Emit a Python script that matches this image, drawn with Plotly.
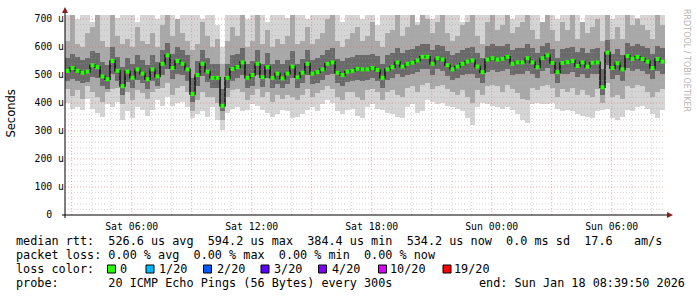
import plotly.graph_objects as go
import pandas as pd

# ---------------- data (15-minute columns) ----------------
START = "2026-01-17 02:39:50"
END = "2026-01-18 08:39:50"
STEP_MIN = 15

median = [515, 525, 515, 508, 512, 535, 528, 495, 485, 550, 515, 460, 512, 490, 520, 505, 485, 520, 495, 540, 570, 525, 550, 540,
          520, 432, 500, 540, 512, 490, 490, 390, 490, 522, 528, 545, 490, 500, 540, 492, 528, 490, 505, 488, 505, 530, 492, 508,
          540, 505, 510, 520, 540, 545, 508, 500, 512, 515, 522, 520, 520, 525, 518, 490, 520, 528, 545, 530, 540, 544, 552, 565,
          565, 540, 560, 555, 535, 520, 530, 540, 548, 552, 530, 510, 555, 560, 555, 558, 565, 540, 545, 545, 560, 545, 528, 560,
          570, 543, 510, 543, 546, 550, 532, 545, 530, 544, 545, 456, 580, 525, 542, 520, 568, 558, 565, 557, 548, 525, 557, 548]

smoke_min = [399, 380, 385, 375, 415, 380, 365, 350, 395, 385, 405, 340, 370, 345, 385, 375, 355, 375, 410, 390, 420, 390, 400, 405,
             385, 345, 360, 370, 350, 385, 340, 305, 365, 380, 385, 370, 375, 395, 390, 375, 365, 350, 360, 375, 370, 345, 350, 360,
             375, 385, 370, 395, 410, 400, 370, 360, 375, 380, 355, 345, 385, 395, 380, 375, 365, 360, 350, 345, 385, 395, 365, 370,
             410, 405, 395, 400, 390, 385, 380, 370, 345, 320, 385, 400, 395, 390, 385, 380, 385, 375, 360, 340, 330, 395, 400, 395,
             395, 400, 380, 370, 375, 370, 360, 355, 350, 345, 370, 375, 380, 345, 340, 350, 375, 370, 385, 390, 380, 360, 345, 375]

smoke_max = [730, 730, 700, 730, 730, 690, 730, 730, 730, 730, 705, 730, 730, 730, 690, 730, 730, 730, 700, 730, 730, 730, 695, 730,
             730, 730, 730, 700, 730, 730, 680, 600, 730, 730, 730, 730, 700, 730, 730, 730, 690, 730, 730, 730, 705, 730, 730, 730,
             700, 730, 730, 730, 730, 730, 730, 690, 730, 730, 730, 700, 730, 730, 680, 730, 730, 730, 700, 730, 730, 730, 690, 730,
             730, 700, 730, 730, 730, 730, 730, 690, 730, 700, 730, 730, 730, 730, 730, 730, 730, 700, 730, 730, 730, 730, 730, 690,
             730, 730, 700, 730, 730, 730, 730, 690, 730, 730, 730, 730, 730, 700, 730, 730, 730, 730, 705, 730, 730, 730, 690, 730]

mid_lo = [450, 425, 445, 415, 460, 440, 420, 405, 440, 450, 455, 395, 440, 410, 445, 435, 415, 440, 450, 455, 470, 430, 455, 460,
          440, 370, 410, 440, 420, 420, 400, 340, 420, 445, 450, 440, 410, 430, 450, 420, 440, 405, 430, 415, 430, 420, 410, 430,
          450, 420, 435, 445, 460, 450, 420, 410, 440, 440, 420, 410, 445, 450, 440, 410, 440, 445, 430, 420, 455, 460, 440, 465,
          470, 450, 460, 465, 450, 440, 430, 445, 420, 400, 445, 430, 460, 465, 460, 440, 465, 450, 435, 415, 410, 455, 445, 460,
          465, 455, 420, 450, 440, 455, 430, 445, 430, 420, 450, 400, 470, 420, 430, 415, 460, 455, 465, 460, 440, 420, 440, 450]

mid_hi = [620, 714, 610, 600, 650, 670, 714, 620, 600, 714, 640, 610, 630, 600, 670, 620, 610, 650, 600, 680, 714, 640, 700, 650,
          620, 590, 610, 690, 640, 600, 630, 540, 620, 670, 640, 714, 600, 620, 714, 610, 660, 600, 630, 610, 640, 714, 610, 620,
          670, 610, 630, 650, 700, 714, 620, 600, 630, 650, 670, 620, 640, 690, 620, 600, 650, 660, 714, 640, 670, 714, 680, 714,
          700, 650, 690, 714, 650, 620, 640, 680, 690, 714, 640, 610, 690, 714, 660, 680, 714, 650, 670, 690, 714, 660, 630, 690,
          714, 660, 620, 690, 660, 714, 630, 690, 650, 670, 700, 620, 714, 630, 670, 630, 714, 680, 700, 680, 660, 630, 714, 680]

core_lo = [480, 485, 478, 470, 475, 492, 488, 460, 450, 505, 478, 430, 475, 455, 482, 470, 450, 480, 462, 500, 520, 485, 505, 500,
           478, 405, 462, 495, 475, 455, 452, 370, 455, 480, 488, 500, 455, 462, 500, 458, 488, 455, 468, 452, 468, 490, 455, 470,
           500, 468, 472, 482, 500, 505, 470, 462, 475, 478, 482, 480, 482, 488, 478, 455, 482, 490, 505, 492, 500, 505, 512, 522,
           522, 500, 520, 515, 495, 482, 490, 500, 505, 505, 490, 470, 512, 518, 512, 515, 522, 500, 505, 502, 515, 505, 488, 515,
           525, 502, 470, 502, 505, 510, 492, 505, 490, 502, 505, 430, 535, 485, 500, 480, 525, 515, 522, 515, 505, 485, 515, 505]

core_hi = [560, 575, 565, 555, 560, 585, 580, 545, 535, 600, 565, 530, 560, 540, 570, 555, 535, 570, 545, 590, 615, 575, 600, 590,
           570, 490, 550, 590, 560, 540, 540, 450, 540, 570, 575, 595, 540, 550, 590, 540, 578, 540, 555, 538, 555, 585, 540, 558,
           590, 555, 560, 570, 590, 595, 558, 550, 562, 565, 572, 570, 570, 575, 568, 540, 570, 578, 595, 580, 590, 594, 602, 612,
           612, 590, 608, 602, 585, 570, 580, 590, 598, 600, 580, 560, 605, 610, 602, 605, 612, 590, 595, 595, 610, 595, 578, 605,
           615, 592, 560, 592, 596, 600, 582, 595, 580, 594, 595, 520, 625, 575, 592, 570, 615, 605, 612, 605, 598, 575, 605, 598]

y_ticks = [0, 100, 200, 300, 400, 500, 600, 700]
y_ticktext = ["0\u00a0\u00a0", "100 u", "200 u", "300 u", "400 u", "500 u", "600 u", "700 u"]
x_ticks = ["2026-01-17 06:00", "2026-01-17 12:00", "2026-01-17 18:00", "2026-01-18 00:00", "2026-01-18 06:00"]
x_ticktext = ["Sat 06:00", "Sat 12:00", "Sat 18:00", "Sun 00:00", "Sun 06:00"]

stats_line = "median rtt:  526.6 us avg  594.2 us max  384.4 us min  534.2 us now  0.0 ms sd  17.6   am/s"
loss_line = "packet loss: 0.00 % avg  0.00 % max  0.00 % min  0.00 % now"
probe_line = "probe:       20 ICMP Echo Pings (56 Bytes) every 300s"
end_line = "end: Sun Jan 18 08:39:50 2026"
loss_labels = ["0", "1/20", "2/20", "3/20", "4/20", "10/20", "19/20"]
loss_colors = ["#26ff00", "#00b8ff", "#0059ff", "#5e00ff", "#7e00ff", "#dd00ff", "#ff0000"]

# ---------------- layout geometry ----------------
W, H = 697, 297
L, R, T, B = 65, 32, 15, 82
PW, PH = W - L - R, H - T - B
YMAX = 714.3


def px(x):
    return (x - L) / PW


def py(y):
    return (T + PH - y) / PH


MONO = "DejaVu Sans Mono"
t0 = pd.Timestamp(START)
times = pd.date_range(t0 + pd.Timedelta(minutes=STEP_MIN / 2), periods=len(median), freq=f"{STEP_MIN}min")
width_ms = STEP_MIN * 60 * 1000

fig = go.Figure()


def band(lo, hi, color):
    fig.add_trace(go.Bar(x=times, y=[h - l for l, h in zip(lo, hi)], base=lo, width=width_ms,
                         marker=dict(color=color, line=dict(width=0)), hoverinfo="skip", showlegend=False))


band(smoke_min, smoke_max, "#d5d5d5")
band(mid_lo, mid_hi, "#a9a9a9")
band(core_lo, core_hi, "#6a6a6a")

fig.add_trace(go.Scatter(x=times, y=median, mode="lines", line=dict(color="#141414", width=1.6, shape="hvh"),
                         hoverinfo="skip", showlegend=False))
fig.add_trace(go.Scatter(x=times, y=median, mode="markers",
                         marker=dict(symbol="square", size=4, color=loss_colors[0], line=dict(width=0)),
                         hoverinfo="skip", showlegend=False))

shapes = []
MAJOR_C = "rgba(240,90,90,0.5)"
MINOR_C = "rgba(160,160,160,0.45)"
# grid drawn above the smoke like rrdtool
hours = pd.date_range("2026-01-17 03:00", "2026-01-18 08:00", freq="1h")
for h in hours:
    major = h.hour % 3 == 0
    shapes.append(dict(type="line", xref="x", yref="paper", x0=h, x1=h, y0=0, y1=1, layer="above",
                       line=dict(color=MAJOR_C if major else MINOR_C, width=1, dash="1px,2px")))
for v in range(20, 720, 20):
    major = v % 100 == 0
    shapes.append(dict(type="line", xref="paper", yref="y", x0=0, x1=1, y0=v, y1=v, layer="above",
                       line=dict(color=MAJOR_C if major else MINOR_C, width=1, dash="1px,2px")))
# axes with arrows
shapes.append(dict(type="line", xref="paper", yref="paper", x0=px(62), x1=px(668), y0=0, y1=0,
                   line=dict(color="black", width=1), layer="above"))
shapes.append(dict(type="line", xref="paper", yref="paper", x0=0, x1=0, y0=py(218), y1=py(12),
                   line=dict(color="black", width=1), layer="above"))
shapes.append(dict(type="path", xref="paper", yref="paper",
                   path=f"M {px(667)} {py(212)} L {px(673)} {py(215)} L {px(667)} {py(218)} Z",
                   fillcolor="#8b1a1a", line=dict(width=0), layer="above"))
shapes.append(dict(type="path", xref="paper", yref="paper",
                   path=f"M {px(62)} {py(13)} L {px(65)} {py(7)} L {px(68)} {py(13)} Z",
                   fillcolor="#8b1a1a", line=dict(width=0), layer="above"))

annotations = []


def text(x, y, s, size=11.8, color="black", xanchor="left", family=MONO, angle=0):
    annotations.append(dict(xref="paper", yref="paper", x=px(x), y=py(y), text=s.replace(" ", "\u00a0"),
                            showarrow=False, xanchor=xanchor, yanchor="middle", textangle=angle,
                            font=dict(family=family, size=size, color=color), borderpad=0))


text(15, 241, stats_line)
text(15, 255, loss_line)
text(15, 283, probe_line)
text(478, 283, end_line)
text(15, 269, "loss color:")
sq_x = [107.5, 146, 203.5, 261, 318.5, 378.5, 443]
lab_x = [119, 158, 215.5, 273, 330.5, 389, 453]
for sx, lx, lab, col in zip(sq_x, lab_x, loss_labels, loss_colors):
    shapes.append(dict(type="rect", xref="paper", yref="paper", x0=px(sx), x1=px(sx + 8), y0=py(273), y1=py(265),
                       fillcolor=col, line=dict(color="black", width=1)))
    text(lx, 269, lab)

text(10.5, 114, "Seconds", size=11.5, family="DejaVu Sans", angle=-90, xanchor="center")
text(686, 60, "RRDTOOL / TOBI OETIKER", size=8, color="#b4b4b4", family="DejaVu Sans", angle=90, xanchor="center")

fig.update_layout(
    width=W, height=H, margin=dict(l=L, r=R, t=T, b=B),
    paper_bgcolor="white", plot_bgcolor="white",
    barmode="overlay", bargap=0, showlegend=False,
    shapes=shapes, annotations=annotations,
    xaxis=dict(type="date", range=[START, END], showgrid=False, zeroline=False, showline=False,
               tickmode="array", tickvals=x_ticks, ticktext=x_ticktext, ticks="outside", ticklen=2,
               tickcolor="rgba(0,0,0,0)",
               tickfont=dict(family=MONO, size=9.8, color="black")),
    yaxis=dict(range=[0, YMAX], showgrid=False, zeroline=False, showline=False,
               tickmode="array", tickvals=y_ticks, ticktext=y_ticktext, ticks="",
               tickfont=dict(family=MONO, size=9.8, color="black")),
)

fig.write_html("out.html")
